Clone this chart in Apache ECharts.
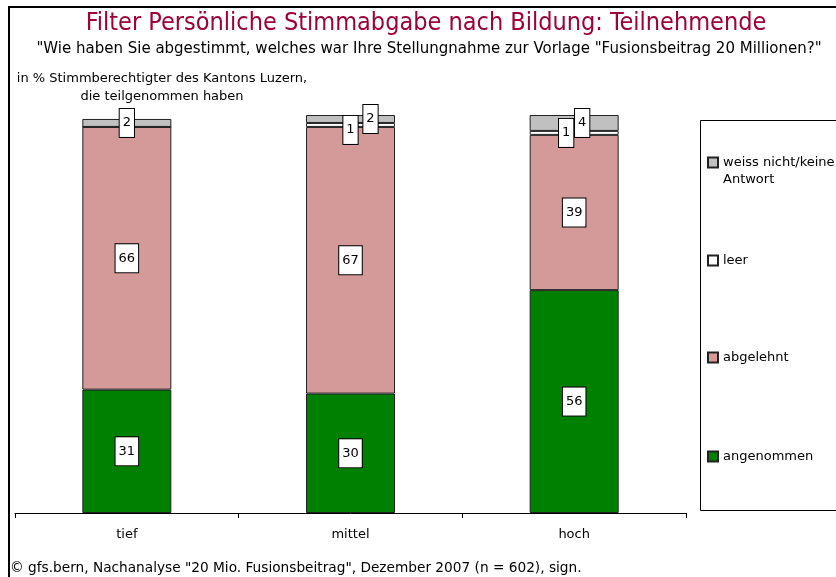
<!DOCTYPE html>
<html>
<head>
<meta charset="utf-8">
<script src="https://cdn.jsdelivr.net/npm/echarts@6/dist/echarts.min.js"></script>
<style>
html, body { margin: 0; padding: 0; background: #fff; }
#chart { width: 836px; height: 577px; }
</style>
</head>
<body>
<div id="chart"></div>
<script>
var categories = ['tief', 'mittel', 'hoch'];
var angenommen = [31, 30, 56];
var abgelehnt = [66, 67, 39];
var leer = [0, 1, 1];
var weissNicht = [2, 2, 4];

var FONT = 'DejaVu Sans';
var COLORS = {
    angenommen: '#008000',
    abgelehnt: '#D49A9A',
    leer: '#FFFFFF',
    weissNicht: '#C0C0C0'
};

// label shifts for the thin segments at the top of the bars
var leerOffsets = [[0, 0], [0, 5], [-8, 0]];
var weissOffsets = [[0, 0], [20, 0], [8, 0]];

var chart = echarts.init(document.getElementById('chart'));

var labelStyle = {
    show: true,
    position: 'inside',
    color: '#000',
    fontFamily: FONT,
    fontSize: 13,
    lineHeight: 16,
    backgroundColor: '#fff',
    borderColor: '#000',
    borderWidth: 1,
    padding: [6, 3],
    formatter: function (p) { return p.value > 0 ? p.value : ''; }
};

function makeData(values, offsets) {
    return values.map(function (v, i) {
        var item = { value: v };
        if (offsets) item.label = { offset: offsets[i] };
        if (v === 0) item.label = { show: false };
        return item;
    });
}

function makeSeries(name, values, color, offsets) {
    return {
        name: name,
        type: 'bar',
        stack: 'total',
        barWidth: 89,
        data: makeData(values, offsets),
        itemStyle: { color: color, borderColor: '#222', borderWidth: 1 },
        label: labelStyle
    };
}

function makeLegend(name, top, text) {
    return {
        data: [{ name: name, icon: 'rect' }],
        left: 707,
        top: top,
        padding: 0,
        itemWidth: 10,
        itemHeight: 10,
        itemGap: 0,
        formatter: function () { return text; },
        textStyle: { fontFamily: FONT, fontSize: 13, color: '#000', lineHeight: 17 }
    };
}

var option = {
    animation: false,
    title: [
        {
            text: 'Filter Persönliche Stimmabgabe nach Bildung: Teilnehmende',
            left: 426, top: 11, textAlign: 'center', padding: 0,
            textStyle: { fontFamily: 'DejaVu Sans Condensed', fontSize: 25, fontWeight: 'normal', color: '#9E0039' }
        },
        {
            text: '"Wie haben Sie abgestimmt, welches war Ihre Stellungnahme zur Vorlage "Fusionsbeitrag 20 Millionen?"',
            left: 429, top: 42, textAlign: 'center', padding: 0,
            textStyle: { fontFamily: FONT, fontSize: 15, fontWeight: 'normal', color: '#000' }
        },
        {
            text: 'in % Stimmberechtigter des Kantons Luzern,\ndie teilgenommen haben',
            left: 162, top: 70, textAlign: 'center', padding: 0,
            textStyle: { fontFamily: FONT, fontSize: 13, fontWeight: 'normal', color: '#000', lineHeight: 18, align: 'center' }
        },
        {
            text: '© gfs.bern, Nachanalyse "20 Mio. Fusionsbeitrag", Dezember 2007 (n = 602), sign.',
            left: 10, top: 561, padding: 0,
            textStyle: { fontFamily: FONT, fontSize: 13.7, fontWeight: 'normal', color: '#000' }
        }
    ],
    legend: [
        makeLegend('weiss nicht/keine Antwort', 137, ' \nweiss nicht/keine\nAntwort'),
        makeLegend('leer', 252, 'leer'),
        makeLegend('abgelehnt', 349, 'abgelehnt'),
        makeLegend('angenommen', 448, 'angenommen')
    ],
    grid: { left: 15, right: 150, top: 115, bottom: 64, containLabel: false },
    xAxis: {
        type: 'category',
        data: categories,
        axisLine: { lineStyle: { color: '#000', width: 1 } },
        axisTick: { show: true, length: 5, inside: false, lineStyle: { color: '#000' } },
        axisLabel: { color: '#000', fontFamily: FONT, fontSize: 13, margin: 15 }
    },
    yAxis: {
        type: 'value',
        min: 0,
        max: 100,
        show: false,
        splitLine: { show: false }
    },
    series: [
        makeSeries('angenommen', angenommen, COLORS.angenommen),
        makeSeries('abgelehnt', abgelehnt, COLORS.abgelehnt),
        makeSeries('leer', leer, COLORS.leer, leerOffsets),
        makeSeries('weiss nicht/keine Antwort', weissNicht, COLORS.weissNicht, weissOffsets)
    ],
    graphic: [
        { type: 'line', shape: { x1: 8, y1: 7, x2: 836, y2: 7 }, style: { stroke: '#000', lineWidth: 2 } },
        { type: 'line', shape: { x1: 9, y1: 6, x2: 9, y2: 577 }, style: { stroke: '#000', lineWidth: 2 } },
        { type: 'rect', shape: { x: 700.5, y: 120.5, width: 150, height: 390 }, style: { fill: 'none', stroke: '#000', lineWidth: 1 } }
    ]
};

chart.setOption(option);
</script>
</body>
</html>
